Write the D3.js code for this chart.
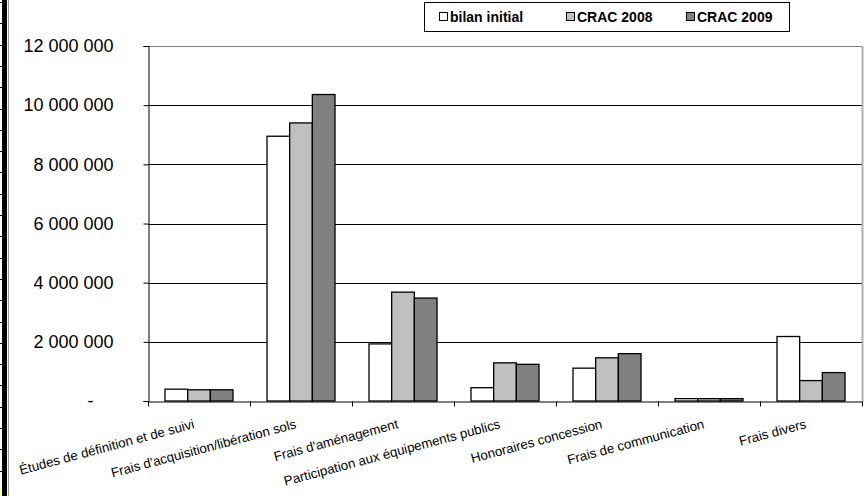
<!DOCTYPE html>
<html>
<head>
<meta charset="utf-8">
<script src="https://cdn.jsdelivr.net/npm/d3@7/dist/d3.min.js"></script>
<style>
  html, body { margin: 0; padding: 0; background: #fff; }
  svg { display: block; font-family: "Liberation Sans", Arial, sans-serif; }
</style>
</head>
<body>
<svg id="chart" width="867" height="496"></svg>
<script>
// Postes de dépenses
const categories = [
  "Études de définition et de suivi",
  "Frais d'acquisition/libération sols",
  "Frais d'aménagement",
  "Participation aux équipements publics",
  "Honoraires concession",
  "Frais de communication",
  "Frais divers"
];
const seriesNames = ["bilan initial", "CRAC 2008", "CRAC 2009"];
const bilanInitial = [400000, 8950000, 1930000, 450000, 1110000, 80000, 2180000];
const crac2008     = [380000, 9400000, 3680000, 1290000, 1460000, 80000, 690000];
const crac2009     = [380000, 10360000, 3480000, 1240000, 1600000, 80000, 960000];
const yTicks = [0, 2000000, 4000000, 6000000, 8000000, 10000000, 12000000];
const seriesColors = ["#FFFFFF", "#C0C0C0", "#808080"];

const seriesValues = [bilanInitial, crac2008, crac2009];
const rows = categories.map((c, i) => ({
  cat: c,
  vals: seriesNames.map((s, j) => ({ key: s, value: seriesValues[j][i], color: seriesColors[j] }))
}));

const svg = d3.select("#chart");

// Feuille : bord gauche avec repères de lignes
const sheet = svg.append("g");
sheet.append("rect").attr("x", 2).attr("y", 0).attr("width", 5).attr("height", 496).attr("fill", "#000");
d3.range(2, 496, 21.3).forEach(yy => {
  sheet.append("line").attr("x1", 0).attr("x2", 3).attr("y1", Math.round(yy) + 0.5).attr("y2", Math.round(yy) + 0.5)
    .attr("stroke", "#000").attr("stroke-width", 1);
});
sheet.append("rect").attr("x", 0).attr("y", 490).attr("width", 2).attr("height", 6).attr("fill", "#FFFF99");
sheet.append("line").attr("x1", 8.5).attr("x2", 8.5).attr("y1", 0).attr("y2", 496)
  .attr("stroke", "#9a9a9a").attr("stroke-width", 1);

const plotLeft = 148, plotRight = 862, plotTop = 46, plotBottom = 401;

const x0 = d3.scaleBand().domain(categories).range([plotLeft, plotRight]).padding(0);
const bw = x0.bandwidth();
const x1 = d3.scaleBand().domain(seriesNames).range([bw / 6, bw * 5 / 6]).padding(0);
const y = d3.scaleLinear().domain([0, 12000000]).range([plotBottom, plotTop]);

const locale = d3.formatLocale({ decimal: ",", thousands: "\u00a0", grouping: [3], currency: ["", ""] });
const fmt = locale.format(",.0f");

// Quadrillage horizontal
svg.append("g").selectAll("line")
  .data(yTicks.filter(t => t > 0 && t < 12000000))
  .join("line")
  .attr("x1", plotLeft).attr("x2", plotRight)
  .attr("y1", d => Math.round(y(d)) + 0.5).attr("y2", d => Math.round(y(d)) + 0.5)
  .attr("stroke", "#000").attr("stroke-width", 1);

// Cadre de la zone de traçage
svg.append("line").attr("x1", plotLeft).attr("x2", plotRight + 1).attr("y1", plotTop + 0.5).attr("y2", plotTop + 0.5)
  .attr("stroke", "#808080").attr("stroke-width", 1.2);
svg.append("line").attr("x1", plotRight + 0.5).attr("x2", plotRight + 0.5).attr("y1", plotTop).attr("y2", plotBottom + 1)
  .attr("stroke", "#B0B0B0").attr("stroke-width", 2);

// Barres groupées
const groups = svg.append("g").selectAll("g")
  .data(rows).join("g")
  .attr("transform", d => `translate(${x0(d.cat)},0)`);
groups.selectAll("rect")
  .data(d => d.vals).join("rect")
  .attr("x", d => x1(d.key))
  .attr("width", x1.bandwidth())
  .attr("y", d => y(d.value))
  .attr("height", d => plotBottom - y(d.value))
  .attr("fill", d => d.color)
  .attr("stroke", "#000").attr("stroke-width", 1.3);

// Axe vertical
const yAxis = svg.append("g")
  .attr("transform", `translate(${plotLeft + 0.5},0)`)
  .call(d3.axisLeft(y).tickValues(yTicks).tickSize(5).tickPadding(30)
    .tickFormat(d => d === 0 ? "-" : fmt(d)));
yAxis.select(".domain").attr("stroke", "#000");
yAxis.selectAll(".tick line").attr("stroke", "#000");
yAxis.selectAll(".tick text")
  .attr("font-size", 18).attr("fill", "#000")
  .attr("font-family", "Liberation Sans, Arial, sans-serif")
  .attr("dx", d => d === 0 ? -20 : 0);

// Axe horizontal
const xAxis = svg.append("g")
  .attr("transform", `translate(0,${plotBottom + 0.5})`)
  .call(d3.axisBottom(x0).tickSize(0).tickFormat(""));
xAxis.select(".domain").attr("stroke", "#000");
// Graduations entre catégories
const bounds = categories.map(c => x0(c)).concat([plotRight]);
xAxis.append("g").selectAll("line")
  .data(bounds).join("line")
  .attr("x1", d => Math.round(d) + 0.5).attr("x2", d => Math.round(d) + 0.5)
  .attr("y1", 0).attr("y2", 5)
  .attr("stroke", "#000");

// Libellés de catégories inclinés
svg.append("g").selectAll("text")
  .data(categories).join("text")
  .attr("transform", d => `translate(${x0(d) + bw / 2 - 4},${428}) rotate(-15)`)
  .attr("text-anchor", "end")
  .attr("font-size", 13.3)
  .attr("fill", "#000")
  .text(d => d);

// Légende
const legend = svg.append("g");
legend.append("rect").attr("x", 424.5).attr("y", 2.5).attr("width", 365).attr("height", 29)
  .attr("fill", "#fff").attr("stroke", "#000").attr("stroke-width", 1);
const legendX = [439, 566, 686];
seriesNames.forEach((s, i) => {
  legend.append("rect").attr("x", legendX[i] + 0.5).attr("y", 12.5).attr("width", 8).attr("height", 8)
    .attr("fill", seriesColors[i]).attr("stroke", "#000").attr("stroke-width", 1);
  legend.append("text").attr("x", legendX[i] + 11).attr("y", 22)
    .attr("font-size", 14).attr("font-weight", "bold").attr("fill", "#000").text(s);
});
</script>
</body>
</html>
